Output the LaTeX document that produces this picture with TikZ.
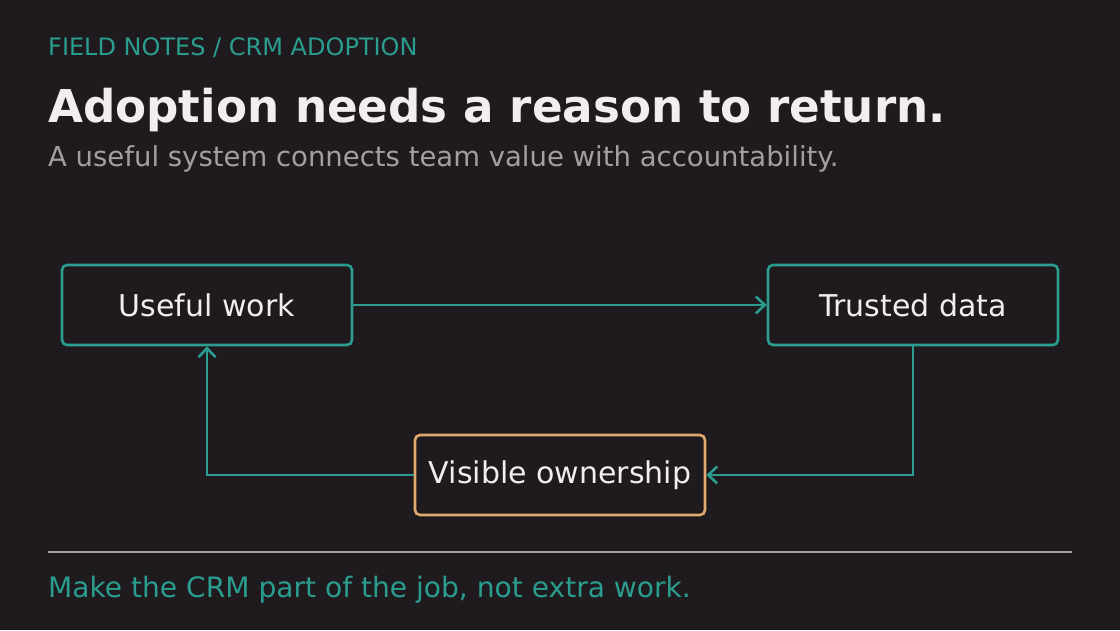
\documentclass[tikz,border=0pt]{standalone}
\usepackage{fontspec}
\setmainfont{DejaVu Sans}
\usetikzlibrary{arrows.meta}
\definecolor{bg}{HTML}{1E1A1D}
\definecolor{teal}{HTML}{2A9D8F}
\definecolor{sand}{HTML}{E0A96D}
\definecolor{mute}{HTML}{A29EA2}
\definecolor{chalk}{HTML}{F2EEF0}
\tikzset{
  card/.style={draw=teal, line width=2.6pt, rounded corners=5pt, fill=bg,
    minimum width=290pt, minimum height=80pt, text=chalk,
    font=\fontsize{30}{34}\selectfont},
  link/.style={draw=teal, line width=2.6pt, -{Straight Barb[length=9pt,width=17pt,line width=2.6pt]}}
}
\begin{document}
\begin{tikzpicture}[x=1pt,y=-1pt]
  \fill[bg] (0,0) rectangle (1120,630);
  \useasboundingbox (0,0) rectangle (1120,630);

  % header
  \node[anchor=base west, inner sep=0, text=teal, font=\fontsize{24}{28}\selectfont] (kicker) at (48,55) {FIELD NOTES / CRM ADOPTION};
  \node[anchor=base west, inner sep=0, text=chalk, font=\fontsize{45.2}{50}\selectfont\bfseries] (title) at (48,122) {Adoption needs a reason to return.};
  \node[anchor=base west, inner sep=0, text=mute, font=\fontsize{27.5}{31}\selectfont] (sub) at (48,166) {A useful system connects team value with accountability.};

  % cards
  \node[card] (useful) at (207,305) {Useful work};
  \node[card] (trusted) at (913,305) {Trusted data};
  \node[card, draw=sand] (owner) at (560,475) {Visible ownership};

  \draw[link] (useful) -- (trusted);
  \draw[link] (trusted.south) |- (owner.east);
  \draw[link] (owner.west) -| (useful.south);

  % footer
  \draw[mute, line width=2.4pt] (48,552) coordinate (rulea) -- (1072,552) coordinate (ruleb);
  \node[anchor=base west, inner sep=0, text=teal, font=\fontsize{28.1}{32}\selectfont] (foot) at (48,597) {Make the CRM part of the job, not extra work.};
\end{tikzpicture}
\end{document}
